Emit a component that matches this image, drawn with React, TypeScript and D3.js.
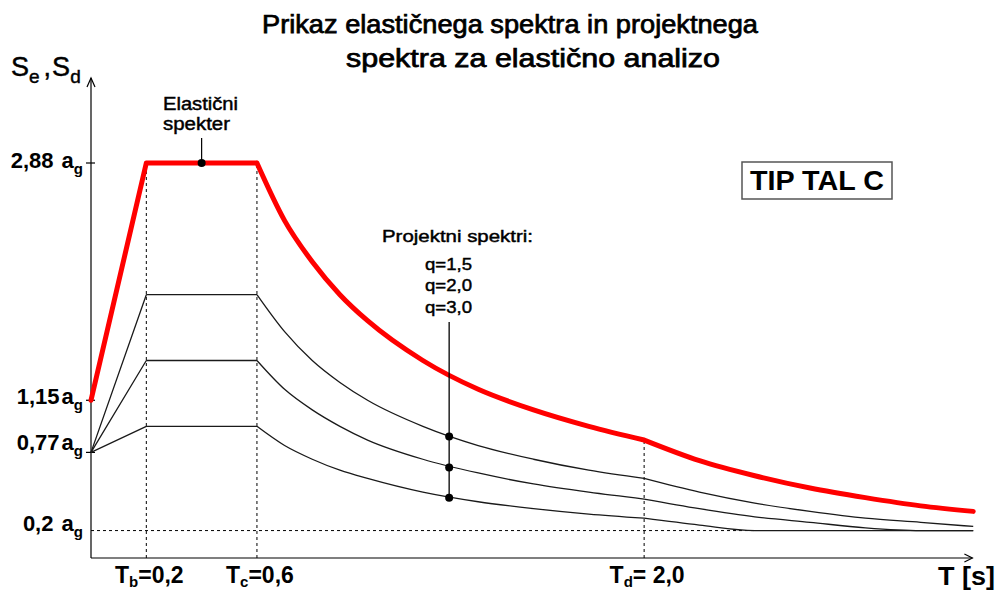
import React from "react";
import * as d3 from "d3";

// ---- data ----
const periods = [0, 0.2, 0.6, 0.7, 0.8, 0.9, 1.0, 1.2, 1.4, 1.6, 1.8, 2.0, 2.2, 2.4, 2.6, 2.8, 3.0, 3.19];
const elastic = [1.15, 2.88, 2.88, 2.46, 2.16, 1.92, 1.73, 1.44, 1.23, 1.08, 0.96, 0.86, 0.71, 0.6, 0.51, 0.44, 0.38, 0.34];
const designQ15 = [0.77, 1.92, 1.92, 1.65, 1.44, 1.28, 1.15, 0.96, 0.82, 0.72, 0.64, 0.58, 0.48, 0.4, 0.34, 0.29, 0.26, 0.23];
const designQ20 = [0.77, 1.44, 1.44, 1.23, 1.08, 0.96, 0.86, 0.72, 0.62, 0.54, 0.48, 0.43, 0.36, 0.3, 0.26, 0.22, 0.2, 0.2];
const designQ30 = [0.77, 0.96, 0.96, 0.82, 0.72, 0.64, 0.58, 0.48, 0.41, 0.36, 0.32, 0.29, 0.24, 0.2, 0.2, 0.2, 0.2, 0.2];
const kinkIndices = [0, 1, 2, 11, 17];

const yTickValues = [2.88, 1.15, 0.77, 0.2];
const yTickNumbers = ["2,88 ", "1,15", "0,77", "0,2 "];
const cornerPeriods = [0.2, 0.6, 2.0];
const cornerSubs = ["b", "c", "d"];
const cornerValues = ["=0,2", "=0,6", "= 2,0"];
const floorValue = 0.2;
const floorEndT = 2.4;
const elasticDotT = 0.4;
const designDotT = 1.295;
const designDotValues = [0.885, 0.66, 0.44];
const qLabels = ["q=1,5", "q=2,0", "q=3,0"];
const titleLines = ["Prikaz elastičnega spektra in projektnega", "spektra za elastično analizo"];

const FONT = "'Liberation Sans', Arial, sans-serif";

export default function App() {
  const W = 998, H = 592;
  const x = d3.scaleLinear().domain([0, 3.2]).range([91, 976]);
  const y = d3.scaleLinear().domain([0, 2.88]).range([558, 163]);

  const seriesPaths = (vals: number[]) => {
    const pts = periods.map((t, i) => [t, vals[i]] as [number, number]);
    const parts: string[] = [];
    for (let k = 0; k < kinkIndices.length - 1; k++) {
      const a = kinkIndices[k], b = kinkIndices[k + 1];
      const seg = pts.slice(a, b + 1);
      const gen = d3
        .line<[number, number]>()
        .x((d) => x(d[0]))
        .y((d) => y(d[1]))
        .curve(b - a === 1 ? d3.curveLinear : d3.curveMonotoneX);
      parts.push(gen(seg) || "");
    }
    return parts.join("");
  };

  const axisTopY = y(3.5);
  const axisEndX = x(3.187);
  const tickLabelOffsets = [5, 4, -2, 0];
  const heavy = { stroke: "#000", strokeWidth: 0.45 };
  const titleHeavy = { stroke: "#000", strokeWidth: 0.75 };

  return (
    <svg
      width={W}
      height={H}
      style={{ position: "absolute", left: 0, top: 0, background: "#fff" }}
      fontFamily={FONT}
    >
      <rect x={0} y={0} width={W} height={H} fill="#fff" />
      {/* title */}
      <text x={262} y={33} fontSize={26} textLength={496} lengthAdjust="spacingAndGlyphs" fill="#000" {...titleHeavy}>
        {titleLines[0]}
      </text>
      <text x={346} y={67} fontSize={26} textLength={374} lengthAdjust="spacingAndGlyphs" fill="#000" {...titleHeavy}>
        {titleLines[1]}
      </text>

      {/* y axis label */}
      <text x={11} y={76} fontSize={27} fill="#000" {...heavy}>
        <tspan>S</tspan>
        <tspan fontSize={19} dy={7}>e</tspan>
        <tspan dy={-7} dx={4}>,</tspan>
        <tspan dx={1}>S</tspan>
        <tspan fontSize={19} dy={7}>d</tspan>
      </text>

      {/* dashed helper lines */}
      <g stroke="#000" strokeWidth={1} strokeDasharray="3,3" fill="none">
        <line x1={x(0)} x2={x(floorEndT)} y1={y(floorValue)} y2={y(floorValue)} />
        <line x1={x(cornerPeriods[0])} x2={x(cornerPeriods[0])} y1={y(0)} y2={y(elastic[1])} />
        <line x1={x(cornerPeriods[1])} x2={x(cornerPeriods[1])} y1={y(0)} y2={y(elastic[2])} />
        <line x1={x(cornerPeriods[2])} x2={x(cornerPeriods[2])} y1={y(0)} y2={y(elastic[11])} />
      </g>

      {/* axes */}
      <g stroke="#000" strokeWidth={1.2} fill="none">
        <line x1={x(0)} x2={x(0)} y1={y(0)} y2={axisTopY} />
        <polyline points={`${x(0) - 4},${axisTopY + 9} ${x(0)},${axisTopY} ${x(0) + 4},${axisTopY + 9}`} />
        <line x1={x(0)} x2={axisEndX} y1={y(0)} y2={y(0)} />
        <polyline points={`${axisEndX - 8},${y(0) - 4} ${axisEndX},${y(0)} ${axisEndX - 8},${y(0) + 4}`} />
        {yTickValues.slice(0, 3).map((v) => (
          <line key={v} x1={x(0) - 5} x2={x(0) + 4} y1={y(v)} y2={y(v)} />
        ))}
      </g>

      {/* y tick labels */}
      {yTickValues.map((v, i) => (
        <text
          key={v}
          x={83}
          y={y(v) + tickLabelOffsets[i]}
          textAnchor="end"
          fontSize={22}
          fontWeight="bold"
          fill="#000"
        >
          <tspan>{yTickNumbers[i]}</tspan>
          <tspan dx={2}>a</tspan>
          <tspan fontSize={15} dy={6}>g</tspan>
        </text>
      ))}

      {/* x labels */}
      {cornerPeriods.map((t, i) => (
        <text key={t} x={x(t) + 3} y={583} textAnchor="middle" fontSize={23} fontWeight="bold" fill="#000">
          <tspan>T</tspan>
          <tspan fontSize={15} dy={4}>{cornerSubs[i]}</tspan>
          <tspan dy={-4}>{cornerValues[i]}</tspan>
        </text>
      ))}
      <text x={938} y={585} fontSize={26} fontWeight="bold" fill="#000" textLength={57} lengthAdjust="spacingAndGlyphs">
        T [s]
      </text>

      {/* design spectra */}
      <g stroke="#1a1a1a" strokeWidth={1.3} fill="none" strokeLinejoin="round">
        <path d={seriesPaths(designQ15)} />
        <path d={seriesPaths(designQ20)} />
        <path d={seriesPaths(designQ30)} />
      </g>
      {/* elastic spectrum */}
      <path
        d={seriesPaths(elastic)}
        stroke="#ff0000"
        strokeWidth={5}
        fill="none"
        strokeLinejoin="round"
        strokeLinecap="round"
      />

      {/* elastic annotation */}
      <line x1={x(elasticDotT)} x2={x(elasticDotT)} y1={138} y2={y(2.88)} stroke="#000" strokeWidth={1.2} />
      <circle cx={x(elasticDotT)} cy={y(2.88)} r={4} fill="#000" />
      <text x={163} y={110} fontSize={18} fill="#000" textLength={75} lengthAdjust="spacingAndGlyphs" {...heavy}>
        Elastični
      </text>
      <text x={163} y={130} fontSize={18} fill="#000" textLength={67} lengthAdjust="spacingAndGlyphs" {...heavy}>
        spekter
      </text>

      {/* design annotation */}
      <line
        x1={x(designDotT)}
        x2={x(designDotT)}
        y1={322}
        y2={y(designDotValues[2])}
        stroke="#000"
        strokeWidth={1.3}
      />
      {designDotValues.map((v) => (
        <circle key={v} cx={x(designDotT)} cy={y(v)} r={4} fill="#000" />
      ))}
      <text x={382} y={242} fontSize={17} fill="#000" textLength={151} lengthAdjust="spacingAndGlyphs" {...heavy}>
        Projektni spektri:
      </text>
      {qLabels.map((q, i) => (
        <text
          key={q}
          x={425}
          y={270 + i * 21.3}
          fontSize={17}
          fill="#000"
          textLength={47}
          lengthAdjust="spacingAndGlyphs"
          {...heavy}
        >
          {q}
        </text>
      ))}

      {/* soil type box */}
      <rect x={742} y={162} width={150} height={37} fill="none" stroke="#555" strokeWidth={1.5} />
      <text x={750} y={190} fontSize={27} fontWeight="bold" fill="#000" textLength={134} lengthAdjust="spacingAndGlyphs">
        TIP TAL C
      </text>
    </svg>
  );
}
